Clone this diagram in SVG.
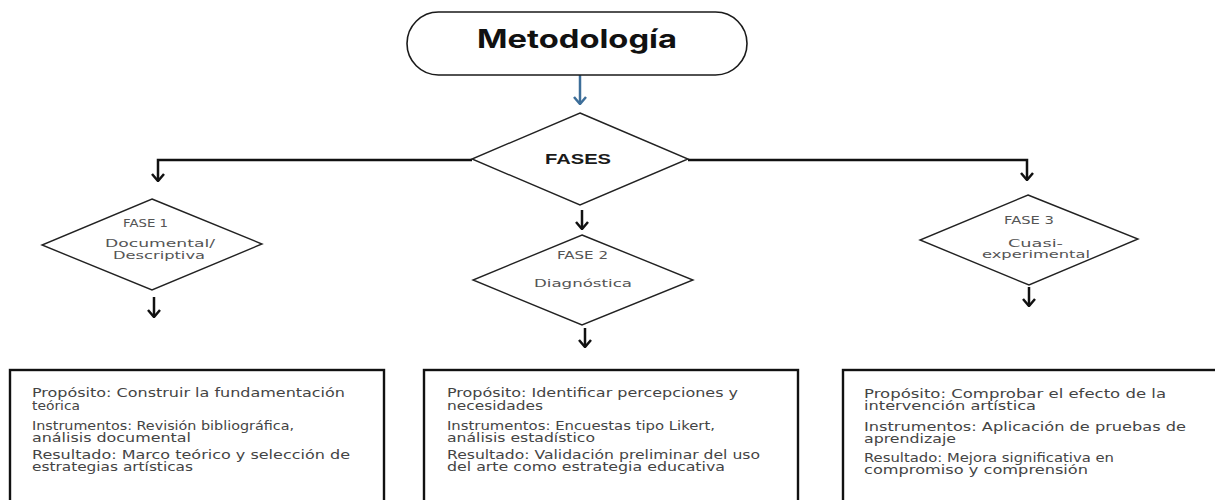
<svg xmlns="http://www.w3.org/2000/svg" width="1215" height="500" viewBox="0 0 1215 500">
<style>
.bg{fill:#ffffff}
.pill{fill:#ffffff;stroke:#1a1a1a;stroke-width:1.6}
.dia{fill:#ffffff;stroke:#222222;stroke-width:1.4}
.box{fill:#ffffff;stroke:#111111;stroke-width:2.4}
.title{font-family:"Inter","Liberation Sans",sans-serif;font-weight:700;font-size:25px;fill:#111111}
.bold{font-family:"Liberation Sans","Arial",sans-serif;font-weight:700;font-size:15px;fill:#1a1a1a}
.dt{font-family:"DejaVu Sans","Noto Sans",sans-serif;font-size:11px;fill:#555555}
.bt{font-family:"DejaVu Sans","Noto Sans",sans-serif;font-size:11.5px;fill:#444444}
.con{fill:none;stroke:#111111;stroke-width:2.5}
.conb{fill:none;stroke:#3d6e99;stroke-width:2.5}
</style>
<defs>
<marker id="arr" viewBox="0 0 10 14" refX="9" refY="7" markerWidth="10" markerHeight="14" markerUnits="userSpaceOnUse" orient="auto">
<path d="M2,1 L9,7 L2,13" fill="none" stroke="#111111" stroke-width="2.5"/>
</marker>
<marker id="arrb" viewBox="0 0 10 14" refX="9" refY="7" markerWidth="10" markerHeight="14" markerUnits="userSpaceOnUse" orient="auto">
<path d="M2,1 L9,7 L2,13" fill="none" stroke="#3d6e99" stroke-width="2.5"/>
</marker>
</defs>
<rect class="bg" x="0" y="0" width="1215" height="500"/>

<g id="connectors">
<path class="conb" d="M580,75 L580,104" marker-end="url(#arrb)"/>
<path class="con" d="M472,160 L158,160 L158,181" marker-end="url(#arr)"/>
<path class="con" d="M688,160 L1027,160 L1027,180" marker-end="url(#arr)"/>
<path class="con" d="M582,210 L582,229" marker-end="url(#arr)"/>
<path class="con" d="M154,297 L154,317" marker-end="url(#arr)"/>
<path class="con" d="M585,328 L585,347" marker-end="url(#arr)"/>
<path class="con" d="M1029,287 L1029,306" marker-end="url(#arr)"/>
</g>

<g id="metodologia">
<rect class="pill" x="407" y="12" width="340" height="63" rx="31.5" ry="31.5"/>
<text class="title" x="477" y="48" textLength="200" lengthAdjust="spacingAndGlyphs">Metodología</text>
</g>

<g id="fases">
<polygon class="dia" points="580,113 688,159 580,205 472,159"/>
<text class="bold" x="545" y="164" textLength="66" lengthAdjust="spacingAndGlyphs">FASES</text>
</g>

<g id="fase1">
<polygon class="dia" points="152,199 262,244 152,290 42,245"/>
<text class="dt" x="123" y="227" textLength="45" lengthAdjust="spacingAndGlyphs">FASE 1</text>
<text class="dt" x="105" y="247" textLength="110" lengthAdjust="spacingAndGlyphs">Documental/</text>
<text class="dt" x="113" y="259" textLength="92" lengthAdjust="spacingAndGlyphs">Descriptiva</text>
</g>

<g id="fase2">
<polygon class="dia" points="582,235 693,280 582,325 473,280"/>
<text class="dt" x="557" y="259" textLength="51" lengthAdjust="spacingAndGlyphs">FASE 2</text>
<text class="dt" x="534" y="287" textLength="98" lengthAdjust="spacingAndGlyphs">Diagnóstica</text>
</g>

<g id="fase3">
<polygon class="dia" points="1028,195 1138,239 1029,285 920,240"/>
<text class="dt" x="1004" y="224" textLength="50" lengthAdjust="spacingAndGlyphs">FASE 3</text>
<text class="dt" x="1008" y="247" textLength="55" lengthAdjust="spacingAndGlyphs">Cuasi-</text>
<text class="dt" x="982" y="258" textLength="108" lengthAdjust="spacingAndGlyphs">experimental</text>
</g>

<g id="box1">
<rect class="box" x="10" y="370" width="374" height="150"/>
<text class="bt" x="32" y="397" textLength="313" lengthAdjust="spacingAndGlyphs">Propósito: Construir la fundamentación</text>
<text class="bt" x="32" y="410" textLength="48" lengthAdjust="spacingAndGlyphs">teórica</text>
<text class="bt" x="32" y="430" textLength="262" lengthAdjust="spacingAndGlyphs">Instrumentos: Revisión bibliográfica,</text>
<text class="bt" x="32" y="442" textLength="159" lengthAdjust="spacingAndGlyphs">análisis documental</text>
<text class="bt" x="32" y="459" textLength="318" lengthAdjust="spacingAndGlyphs">Resultado: Marco teórico y selección de</text>
<text class="bt" x="32" y="471" textLength="161" lengthAdjust="spacingAndGlyphs">estrategias artísticas</text>
</g>

<g id="box2">
<rect class="box" x="424" y="370" width="374" height="150"/>
<text class="bt" x="447" y="397" textLength="291" lengthAdjust="spacingAndGlyphs">Propósito: Identificar percepciones y</text>
<text class="bt" x="447" y="410" textLength="96" lengthAdjust="spacingAndGlyphs">necesidades</text>
<text class="bt" x="447" y="430" textLength="268" lengthAdjust="spacingAndGlyphs">Instrumentos: Encuestas tipo Likert,</text>
<text class="bt" x="447" y="442" textLength="148" lengthAdjust="spacingAndGlyphs">análisis estadístico</text>
<text class="bt" x="447" y="459" textLength="313" lengthAdjust="spacingAndGlyphs">Resultado: Validación preliminar del uso</text>
<text class="bt" x="447" y="471" textLength="278" lengthAdjust="spacingAndGlyphs">del arte como estrategia educativa</text>
</g>

<g id="box3">
<rect class="box" x="843" y="370" width="400" height="150"/>
<text class="bt" x="864" y="398" textLength="302" lengthAdjust="spacingAndGlyphs">Propósito: Comprobar el efecto de la</text>
<text class="bt" x="864" y="410" textLength="172" lengthAdjust="spacingAndGlyphs">intervención artística</text>
<text class="bt" x="864" y="431" textLength="322" lengthAdjust="spacingAndGlyphs">Instrumentos: Aplicación de pruebas de</text>
<text class="bt" x="864" y="443" textLength="92" lengthAdjust="spacingAndGlyphs">aprendizaje</text>
<text class="bt" x="864" y="462" textLength="250" lengthAdjust="spacingAndGlyphs">Resultado: Mejora significativa en</text>
<text class="bt" x="864" y="474" textLength="224" lengthAdjust="spacingAndGlyphs">compromiso y comprensión</text>
</g>
</svg>
